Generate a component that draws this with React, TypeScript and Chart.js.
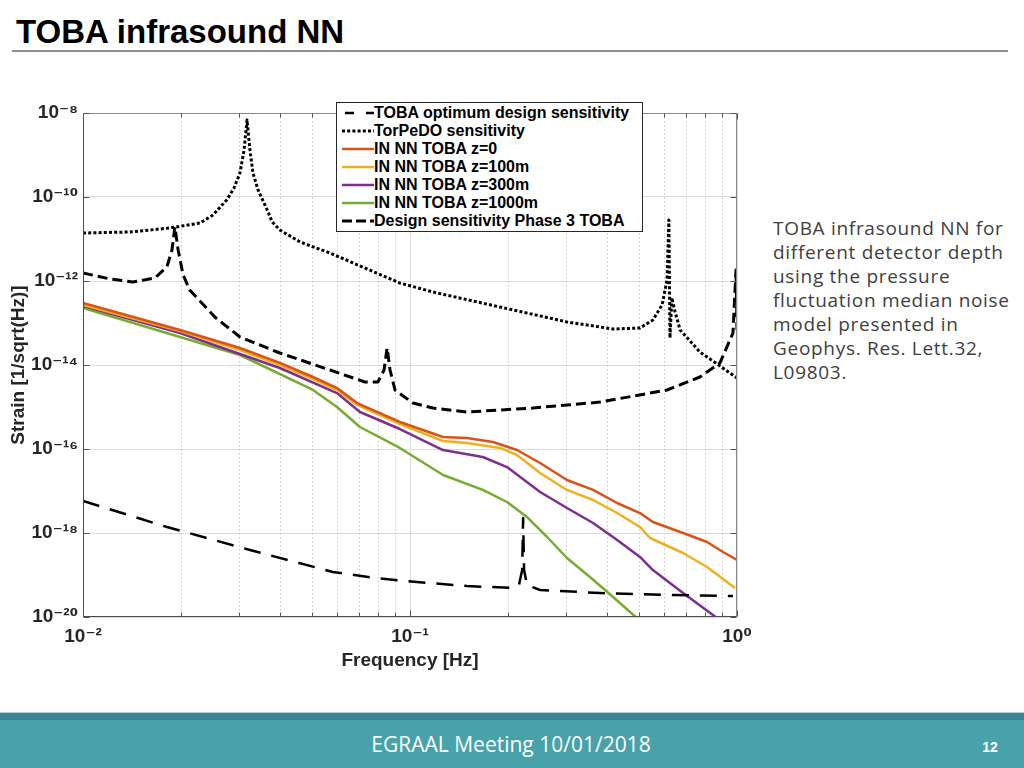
import React, { useEffect, useRef } from "react";
import { Chart, registerables } from "chart.js";

Chart.register(...registerables);

// ---------- data (frequency in Hz, strain in 1/sqrt(Hz)) ----------
const TOBA_OPT_FREQ = [0.01, 0.01807, 0.0324, 0.0581, 0.0782, 0.105, 0.1494, 0.2065, 0.2154, 0.2203, 0.2218, 0.2233, 0.228, 0.25, 0.381, 0.611, 0.972];
const TOBA_OPT_STRAIN = [5.78e-18, 1.39e-18, 3.94e-19, 1.18e-19, 8.49e-20, 6.81e-20, 5.47e-20, 4.9e-20, 5.78e-20, 1.31e-19, 2.28e-18, 1.31e-19, 5.78e-20, 4.4e-20, 3.72e-20, 3.34e-20, 3.16e-20];

const TORPEDO_FREQ = [0.01, 0.01393, 0.01845, 0.0228, 0.02497, 0.0275, 0.02896, 0.0302, 0.03108, 0.03174, 0.0324, 0.0331, 0.0343, 0.0366, 0.0379, 0.04, 0.0461, 0.0569, 0.0931, 0.1175, 0.1884, 0.302, 0.418, 0.505, 0.553, 0.59, 0.611, 0.619, 0.6238, 0.632, 0.646, 0.67, 0.77, 0.887, 1.0];
const TORPEDO_STRAIN = [1.39e-11, 1.47e-11, 1.83e-11, 2.4e-11, 3.72e-11, 8.49e-11, 1.64e-10, 3.72e-10, 1.31e-9, 6.81e-9, 1.31e-9, 3.72e-10, 1.47e-10, 4.9e-11, 2.54e-11, 1.64e-11, 8.49e-12, 4.64e-12, 8.95e-13, 5.47e-13, 2.4e-13, 1.06e-13, 7.19e-14, 7.6e-14, 1.18e-13, 2.69e-13, 1.06e-12, 2.83e-11, 4.4e-14, 4.0e-13, 1.9e-13, 6.81e-14, 2.04e-14, 9.46e-15, 4.9e-15];

const NN_Z0_FREQ = [0.01, 0.0198, 0.0302, 0.04, 0.0505, 0.0598, 0.0689, 0.0931, 0.1262, 0.1494, 0.1794, 0.2124, 0.25, 0.302, 0.363, 0.43, 0.505, 0.553, 0.684, 0.81, 0.906, 1.0];
const NN_Z0_STRAIN = [2.99e-13, 6.81e-14, 2.54e-14, 1.12e-14, 5.18e-15, 2.83e-15, 1.24e-15, 4.4e-16, 1.93e-16, 1.83e-16, 1.47e-16, 9.46e-17, 4.64e-17, 1.83e-17, 1.06e-17, 5.18e-18, 2.99e-18, 1.83e-18, 1.0e-18, 6.11e-19, 3.53e-19, 2.28e-19];

const NN_Z100_FREQ = [0.01, 0.0198, 0.0302, 0.04, 0.0505, 0.0598, 0.0689, 0.0931, 0.1262, 0.1494, 0.1884, 0.2124, 0.25, 0.302, 0.363, 0.43, 0.505, 0.542, 0.684, 0.81, 0.986];
const NN_Z100_STRAIN = [2.69e-13, 6.45e-14, 2.28e-14, 1.0e-14, 4.64e-15, 2.54e-15, 1.12e-15, 3.94e-16, 1.55e-16, 1.39e-16, 1.06e-16, 7.19e-17, 2.69e-17, 1.06e-17, 6.11e-18, 2.99e-18, 1.39e-18, 7.6e-19, 3.34e-19, 1.55e-19, 4.9e-20];

const NN_Z300_FREQ = [0.01, 0.0198, 0.04, 0.0598, 0.0703, 0.0931, 0.1262, 0.167, 0.198, 0.25, 0.302, 0.363, 0.43, 0.505, 0.553, 0.684, 0.869];
const NN_Z300_STRAIN = [2.54e-13, 5.78e-14, 8.49e-15, 2.15e-15, 7.6e-16, 2.99e-16, 9.46e-17, 6.45e-17, 3.72e-17, 9.46e-18, 3.94e-18, 1.73e-18, 6.81e-19, 2.69e-19, 1.31e-19, 3.72e-20, 9.46e-21];

const NN_Z1000_FREQ = [0.01, 0.0198, 0.0302, 0.0505, 0.0598, 0.0703, 0.0931, 0.1262, 0.167, 0.198, 0.228, 0.2626, 0.302, 0.355, 0.418, 0.494];
const NN_Z1000_STRAIN = [2.28e-13, 4.64e-14, 1.73e-14, 2.54e-15, 1.0e-15, 3.34e-16, 1.06e-16, 2.4e-17, 1.06e-17, 5.47e-18, 2.4e-18, 8.03e-19, 2.54e-19, 8.95e-20, 2.99e-20, 9.46e-21];

const PHASE3_FREQ = [0.01, 0.0121, 0.01422, 0.0166, 0.01807, 0.01871, 0.0191, 0.01954, 0.02024, 0.0212, 0.0253, 0.0302, 0.04, 0.0569, 0.0728, 0.0798, 0.0833, 0.0851, 0.0869, 0.09, 0.1021, 0.1175, 0.1494, 0.2378, 0.381, 0.611, 0.77, 0.887, 0.972, 0.993, 1.0];
const PHASE3_STRAIN = [1.55e-12, 1.12e-12, 9.46e-13, 1.18e-12, 2.2e-12, 5.47e-12, 1.93e-11, 5.47e-12, 1.39e-12, 6.11e-13, 1.39e-13, 4.64e-14, 1.93e-14, 7.6e-15, 3.94e-15, 3.94e-15, 7.6e-15, 2.54e-14, 7.6e-15, 2.54e-15, 1.24e-15, 9.46e-16, 7.6e-16, 9.46e-16, 1.31e-15, 2.54e-15, 5.18e-15, 1.12e-14, 5.78e-14, 1.83e-12, 6.81e-14];

const SERIES_LABELS = [
  "TOBA optimum design sensitivity",
  "TorPeDO sensitivity",
  "IN NN TOBA z=0",
  "IN NN TOBA z=100m",
  "IN NN TOBA z=300m",
  "IN NN TOBA z=1000m",
  "Design sensitivity Phase 3 TOBA",
];

const X_MAJOR_TICKS = [0.01, 0.1, 1];
const X_MINOR_TICKS = [0.02, 0.03, 0.04, 0.05, 0.06, 0.07, 0.08, 0.09, 0.2, 0.3, 0.4, 0.5, 0.6, 0.7, 0.8, 0.9];
const Y_TICKS = [1e-20, 1e-18, 1e-16, 1e-14, 1e-12, 1e-10, 1e-8];

const X_TITLE = "Frequency [Hz]";
const Y_TITLE = "Strain [1/sqrt(Hz)]";
const PAGE_TITLE = "TOBA infrasound NN";
const SIDE_TEXT = [
  "TOBA infrasound NN for",
  "different detector depth",
  "using the pressure",
  "fluctuation median noise",
  "model presented in",
  "Geophys. Res. Lett.32,",
  "L09803.",
];
const FOOTER_TEXT = "EGRAAL Meeting 10/01/2018";
const PAGE_NUMBER = "12";

// ---------- styles ----------
const STYLES = [
  { color: "#000000", width: 2.5, dash: [17, 11], svgDash: "9,12" },
  { color: "#000000", width: 3, dash: [3, 2.2], svgDash: "3,2.2" },
  { color: "#D95319", width: 2.5, dash: [] as number[], svgDash: "" },
  { color: "#EDB120", width: 2.5, dash: [] as number[], svgDash: "" },
  { color: "#7E2F8E", width: 2.5, dash: [] as number[], svgDash: "" },
  { color: "#77AC30", width: 2.5, dash: [] as number[], svgDash: "" },
  { color: "#000000", width: 3, dash: [10, 5], svgDash: "10,4" },
];

const SERIES = [
  [TOBA_OPT_FREQ, TOBA_OPT_STRAIN],
  [TORPEDO_FREQ, TORPEDO_STRAIN],
  [NN_Z0_FREQ, NN_Z0_STRAIN],
  [NN_Z100_FREQ, NN_Z100_STRAIN],
  [NN_Z300_FREQ, NN_Z300_STRAIN],
  [NN_Z1000_FREQ, NN_Z1000_STRAIN],
  [PHASE3_FREQ, PHASE3_STRAIN],
];

const SUP: Record<string, string> = {
  "-": "\u207B", "0": "\u2070", "1": "\u00B9", "2": "\u00B2", "3": "\u00B3", "4": "\u2074",
  "5": "\u2075", "6": "\u2076", "7": "\u2077", "8": "\u2078", "9": "\u2079",
};
const powLabel = (v: number) =>
  "10" + String(Math.round(Math.log10(v))).split("").map((c) => SUP[c] || c).join("");

const AXIS_FONT = { family: '"Liberation Sans", Arial, "DejaVu Sans", sans-serif', weight: "bold" as const, size: 19 };
const TEXT_DARK = "#262626";

const minorGridPlugin = {
  id: "minorGrid",
  beforeDatasetsDraw(chart: any) {
    const { ctx, chartArea } = chart;
    const xs = chart.scales.x;
    ctx.save();
    ctx.lineWidth = 1;
    ctx.strokeStyle = "#c9c9c9";
    ctx.setLineDash([1.5, 2.5]);
    ctx.beginPath();
    for (const v of X_MINOR_TICKS) {
      const x = Math.round(xs.getPixelForValue(v)) + 0.5;
      ctx.moveTo(x, chartArea.top);
      ctx.lineTo(x, chartArea.bottom);
    }
    ctx.stroke();
    ctx.restore();
  },
};

const framePlugin = {
  id: "matlabFrame",
  afterDraw(chart: any) {
    const { ctx, chartArea } = chart;
    const { left, right, top, bottom } = chartArea;
    const xs = chart.scales.x;
    const ys = chart.scales.y;
    const L = Math.round(left) + 0.5;
    const R = Math.round(right) - 0.5;
    const T = Math.round(top) + 0.5;
    const B = Math.round(bottom) - 0.5;
    ctx.save();
    ctx.lineWidth = 1;
    ctx.strokeStyle = "#8a8a8a";
    ctx.beginPath();
    ctx.moveTo(L, T); ctx.lineTo(R, T); ctx.lineTo(R, B);
    ctx.stroke();
    ctx.strokeStyle = "#4a4a4a";
    ctx.beginPath();
    ctx.moveTo(L, T); ctx.lineTo(L, B); ctx.lineTo(R, B);
    ctx.stroke();
    ctx.strokeStyle = "#555555";
    ctx.beginPath();
    for (const v of Y_TICKS) {
      const y = Math.round(ys.getPixelForValue(v)) + 0.5;
      ctx.moveTo(L, y); ctx.lineTo(L + 6, y);
      ctx.moveTo(R, y); ctx.lineTo(R - 6, y);
    }
    for (const v of X_MAJOR_TICKS) {
      const x = Math.round(xs.getPixelForValue(v)) + 0.5;
      ctx.moveTo(x, B); ctx.lineTo(x, B - 6);
      ctx.moveTo(x, T); ctx.lineTo(x, T + 6);
    }
    for (const v of X_MINOR_TICKS) {
      const x = Math.round(xs.getPixelForValue(v)) + 0.5;
      ctx.moveTo(x, B); ctx.lineTo(x, B - 4);
      ctx.moveTo(x, T); ctx.lineTo(x, T + 4);
    }
    ctx.stroke();
    ctx.restore();
  },
};

function StrainChart() {
  const ref = useRef<HTMLCanvasElement | null>(null);
  useEffect(() => {
    if (!ref.current) return;
    const datasets = SERIES.map(([f, s], i) => ({
      label: SERIES_LABELS[i],
      data: f.map((fx, k) => ({ x: fx, y: s[k] })),
      borderColor: STYLES[i].color,
      backgroundColor: STYLES[i].color,
      borderWidth: STYLES[i].width,
      borderDash: STYLES[i].dash,
      borderJoinStyle: "round" as const,
      pointRadius: 0,
      tension: 0,
      fill: false,
    }));
    const chart = new Chart(ref.current, {
      type: "line",
      data: { datasets },
      plugins: [minorGridPlugin, framePlugin],
      options: {
        animation: false,
        responsive: false,
        devicePixelRatio: 1,
        events: [],
        layout: { padding: { top: 18, right: 23, left: 0, bottom: 0 } },
        plugins: { legend: { display: false }, tooltip: { enabled: false } },
        scales: {
          x: {
            type: "logarithmic",
            position: "bottom",
            min: 0.01,
            max: 1,
            afterBuildTicks: (s: any) => { s.ticks = X_MAJOR_TICKS.map((value) => ({ value })); },
            afterFit: (s: any) => { s.height = 63; },
            grid: { color: "#dcdcdc", lineWidth: 1, drawTicks: false },
            border: { display: false },
            ticks: {
              callback: (v: any) => powLabel(Number(v)),
              padding: 8,
              color: TEXT_DARK,
              font: AXIS_FONT,
              maxRotation: 0,
              autoSkip: false,
            },
            title: { display: true, text: X_TITLE, color: TEXT_DARK, font: AXIS_FONT, padding: { top: 0, bottom: 8 } },
          },
          y: {
            type: "logarithmic",
            min: 1e-20,
            max: 1e-8,
            afterBuildTicks: (s: any) => { s.ticks = Y_TICKS.map((value) => ({ value })); },
            afterFit: (s: any) => { s.width = 83; },
            grid: { color: "#dcdcdc", lineWidth: 1, drawTicks: false },
            border: { display: false },
            ticks: {
              callback: (v: any) => powLabel(Number(v)),
              padding: 5,
              color: TEXT_DARK,
              font: AXIS_FONT,
              autoSkip: false,
            },
            title: { display: true, text: Y_TITLE, color: TEXT_DARK, font: AXIS_FONT, padding: { top: 7, bottom: 0 } },
          },
        },
      } as any,
    });
    return () => chart.destroy();
  }, []);
  return (
    <canvas
      ref={ref}
      width={760}
      height={585}
      style={{ position: "absolute", left: 0, top: 95, width: 760, height: 585 }}
    />
  );
}

function Legend() {
  return (
    <div
      style={{
        position: "absolute",
        left: 336,
        top: 102,
        width: 307,
        height: 130,
        boxSizing: "border-box",
        border: "1px solid #262626",
        background: "#ffffff",
        paddingTop: 1,
      }}
    >
      {SERIES_LABELS.map((label, i) => (
        <div key={label} style={{ position: "relative", height: 18 }}>
          <svg width={32} height={18} style={{ position: "absolute", left: 5, top: 0 }}>
            <line
              x1={0}
              y1={9}
              x2={32}
              y2={9}
              stroke={STYLES[i].color}
              strokeWidth={STYLES[i].width}
              strokeDasharray={STYLES[i].svgDash || undefined}
              strokeDashoffset={i === 0 ? -3 : 0}
            />
          </svg>
          <span
            style={{
              position: "absolute",
              left: 37,
              top: 0,
              lineHeight: "18px",
              font: 'bold 16px "Liberation Sans", Arial, sans-serif',
              color: "#000",
              whiteSpace: "nowrap",
            }}
          >
            {label}
          </span>
        </div>
      ))}
    </div>
  );
}

export default function App() {
  return (
    <div
      style={{
        position: "absolute",
        left: 0,
        top: 0,
        width: 1024,
        height: 768,
        overflow: "hidden",
        background: "#ffffff",
      }}
    >
      <div
        style={{
          position: "absolute",
          left: 16,
          top: 15,
          font: 'bold 33px "Liberation Sans", Arial, sans-serif',
          lineHeight: "33px",
          color: "#000",
          whiteSpace: "nowrap",
        }}
      >
        {PAGE_TITLE}
      </div>
      <div style={{ position: "absolute", left: 12, top: 50, width: 996, height: 2, background: "#8f8f8f" }} />
      <StrainChart />
      <Legend />
      <div
        style={{
          position: "absolute",
          left: 773,
          top: 216,
          width: 251,
          font: '19px "Open Sans", "DejaVu Sans", sans-serif',
          letterSpacing: "0.7px",
          lineHeight: "24px",
          color: "#404040",
          whiteSpace: "nowrap",
        }}
      >
        {SIDE_TEXT.map((t) => (
          <div key={t}>{t}</div>
        ))}
      </div>
      <div style={{ position: "absolute", left: 0, top: 712, width: 1024, height: 1, background: "#b9cfd4" }} />
      <div style={{ position: "absolute", left: 0, top: 713, width: 1024, height: 7, background: "#3b8696" }} />
      <div style={{ position: "absolute", left: 0, top: 720, width: 1024, height: 48, background: "#47a2aa" }} />
      <div
        style={{
          position: "absolute",
          left: 0,
          top: 730,
          width: 1024,
          textAlign: "center",
          font: '21px "Open Sans", "DejaVu Sans", sans-serif',
          lineHeight: "28px",
          color: "#ffffff",
          whiteSpace: "nowrap",
        }}
      >
        <span style={{ position: "relative", left: -1 }}>{FOOTER_TEXT}</span>
      </div>
      <div
        style={{
          position: "absolute",
          left: 976,
          top: 738,
          width: 28,
          textAlign: "center",
          font: 'bold 14px "Liberation Sans", Arial, sans-serif',
          lineHeight: "18px",
          color: "#ffffff",
        }}
      >
        {PAGE_NUMBER}
      </div>
    </div>
  );
}
